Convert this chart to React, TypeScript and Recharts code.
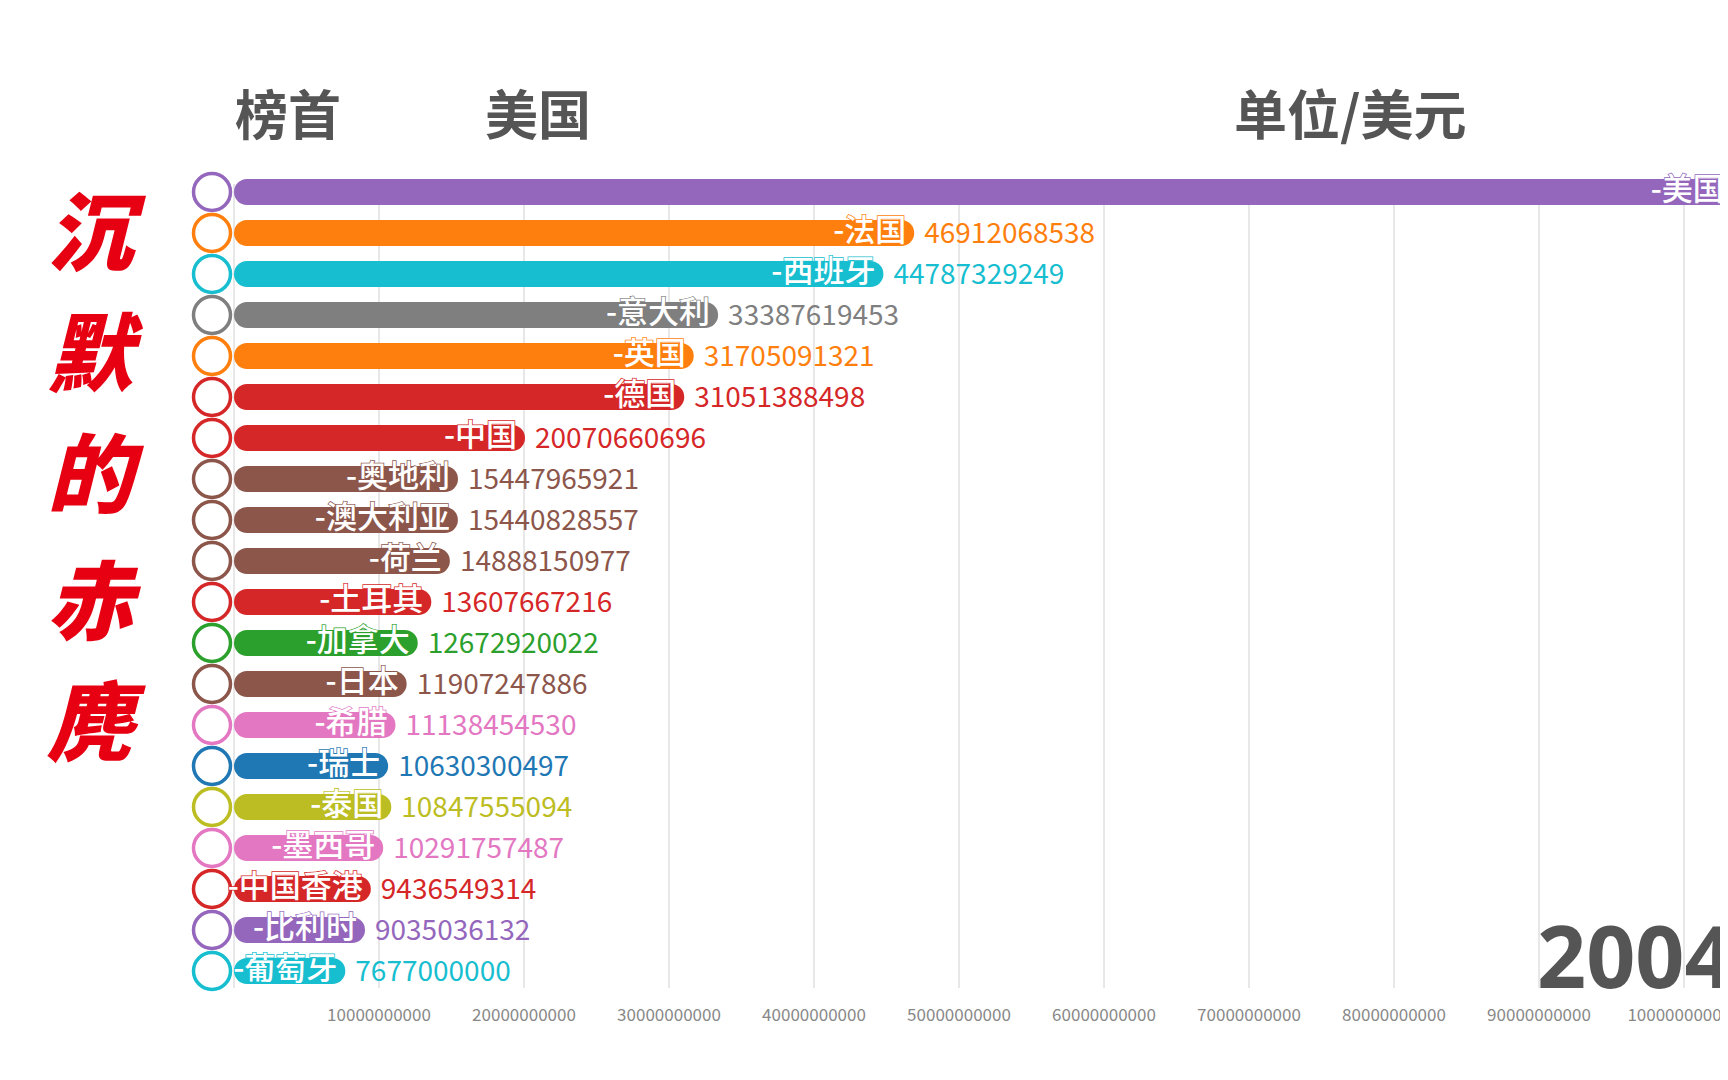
import { BarChart, Bar, XAxis, YAxis, CartesianGrid, Cell, LabelList } from "recharts";

// 2004 年国际旅游收入（美元）
const countries = [
  "美国", "法国", "西班牙", "意大利", "英国", "德国", "中国", "奥地利", "澳大利亚", "荷兰",
  "土耳其", "加拿大", "日本", "希腊", "瑞士", "泰国", "墨西哥", "中国香港", "比利时", "葡萄牙",
];
const receipts = [
  103300000000, 46912068538, 44787329249, 33387619453, 31705091321, 31051388498, 20070660696,
  15447965921, 15440828557, 14888150977, 13607667216, 12672920022, 11907247886, 11138454530,
  10630300497, 10847555094, 10291757487, 9436549314, 9035036132, 7677000000,
];
const barColors = [
  "#9467bd", "#ff7f0e", "#17becf", "#7f7f7f", "#ff7f0e", "#d62728", "#d62728", "#8c564b", "#8c564b", "#8c564b",
  "#d62728", "#2ca02c", "#8c564b", "#e377c2", "#1f77b4", "#bcbd22", "#e377c2", "#d62728", "#9467bd", "#17becf",
];
const xTicks = [0, 10000000000, 20000000000, 30000000000, 40000000000, 50000000000, 60000000000, 70000000000, 80000000000, 90000000000, 100000000000];
const titleChars = ["沉", "默", "的", "赤", "麂"];
const year = "2004";

const data = countries.map((name, i) => ({ name, value: receipts[i] }));

const FONT = "'Noto Sans CJK SC', 'Noto Sans', sans-serif";

const BarShape = (props: any) => {
  const { x, y, width, height, fill } = props;
  const cy = y + height / 2;
  return (
    <g>
      <rect x={x} y={y} width={Math.max(width, 0)} height={height} rx={height / 2} ry={height / 2} fill={fill} />
      <circle cx={x - 22} cy={cy} r={18.5} fill="#fff" stroke={fill} strokeWidth={3.5} />
    </g>
  );
};

const NameLabel = (props: any) => {
  const { x, y, width, height, value, index } = props;
  return (
    <text
      x={x + width - 8}
      y={y + height / 2 - 6}
      textAnchor="end"
      dominantBaseline="central"
      fontFamily={FONT}
      fontSize={31}
      fontWeight={500}
      fill="#fff"
      stroke={barColors[index]}
      strokeWidth={1.5}
      paintOrder="stroke"
    >
      -{value}
    </text>
  );
};

const ValueLabel = (props: any) => {
  const { x, y, width, height, value, index } = props;
  return (
    <text
      x={x + width + 10}
      y={y + height / 2 - 2}
      textAnchor="start"
      dominantBaseline="central"
      fontFamily={FONT}
      fontSize={28}
      fill={barColors[index]}
    >
      {value}
    </text>
  );
};

const XTick = (props: any) => {
  const { x, y, payload } = props;
  if (payload.value === 0) return <g />;
  return (
    <text x={x} y={y + 22} textAnchor="middle" dominantBaseline="central" fontFamily={FONT} fontSize={17} fill="#888">
      {payload.value}
    </text>
  );
};

export default function App() {
  return (
    <div style={{ position: "relative", width: 1728, height: 1080, overflow: "hidden", margin: -8, background: "#fff" }}>
      <BarChart
        width={1829}
        height={1040}
        data={data}
        layout="vertical"
        margin={{ top: 171, right: 0, bottom: 0, left: 234 }}
        barSize={26}
      >
        <CartesianGrid horizontal={false} vertical={true} stroke="#d0d0d0" y={184} height={804} />
        <XAxis
          type="number"
          domain={[0, 110000000000]}
          ticks={xTicks}
          axisLine={false}
          tickLine={false}
          tickSize={0}
          tickMargin={0}
          height={49}
          tick={<XTick />}
          interval={0}
        />
        <YAxis type="category" dataKey="name" hide width={0} />
        <Bar dataKey="value" shape={<BarShape />} isAnimationActive={false}>
          {data.map((d, i) => (
            <Cell key={d.name} fill={barColors[i]} />
          ))}
          <LabelList dataKey="name" content={<NameLabel />} />
          <LabelList dataKey="value" content={<ValueLabel />} />
        </Bar>
      </BarChart>
      <svg width={1728} height={1080} style={{ position: "absolute", left: 0, top: 0, pointerEvents: "none" }}>
        <g fontFamily={FONT} fontWeight={700} fontSize={53} fill="#555">
          <text x={235} y={112} dominantBaseline="central">榜首</text>
          <text x={485} y={112} dominantBaseline="central">{countries[0]}</text>
          <text x={1234} y={112} dominantBaseline="central">单位/美元</text>
        </g>
        <g fontFamily={FONT} fontWeight={900} fontStyle="italic" fontSize={86} fill="#e60012">
          {titleChars.map((c, i) => (
            <text key={c} x={90} y={[226, 347, 468, 595, 716][i]} textAnchor="middle" dominantBaseline="central">
              {c}
            </text>
          ))}
        </g>
        <text x={1537} y={988} fontFamily="'Open Sans', sans-serif" fontWeight={700} fontSize={86} fill="#555">
          {year}
        </text>
      </svg>
    </div>
  );
}
